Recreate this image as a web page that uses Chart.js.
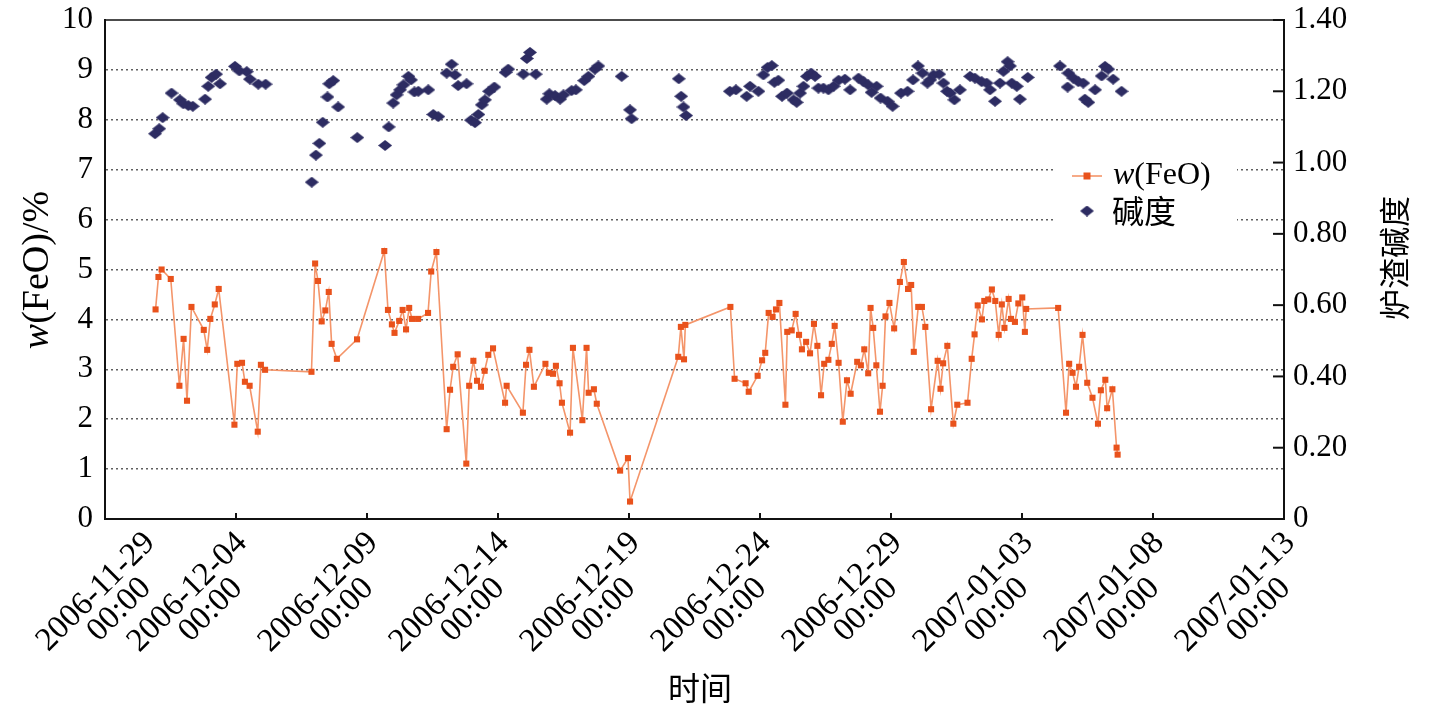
<!DOCTYPE html>
<html><head><meta charset="utf-8">
<script src="https://cdn.jsdelivr.net/npm/chart.js@4.4.1/dist/chart.umd.min.js"></script>
<style>html,body{margin:0;padding:0;background:#fff;}#wrap{width:1453px;height:707px;position:relative;}</style>
</head><body><div id="wrap"><canvas id="c"></canvas></div>
<script>
// ---- data ----
const xTickDates = ['2006-11-29','2006-12-04','2006-12-09','2006-12-14','2006-12-19','2006-12-24','2006-12-29','2007-01-03','2007-01-08','2007-01-13'];
const xTickTime = '00:00';
const leftTickLabels = ['0','1','2','3','4','5','6','7','8','9','10'];
const rightTickLabels = ['0','0.20','0.40','0.60','0.80','1.00','1.20','1.40'];
// days since 2006-11-29 00:00
const feoDays = [1.93,2.04,2.16,2.51,2.84,3.0,3.13,3.3,3.77,3.9,4.02,4.19,4.34,4.94,5.05,5.23,5.34,5.52,5.83,5.95,6.11,7.88,8.02,8.13,8.27,8.41,8.54,8.65,8.85,9.62,10.66,10.8,10.95,11.05,11.23,11.36,11.49,11.61,11.72,11.95,12.33,12.45,12.65,13.04,13.17,13.29,13.46,13.79,13.9,14.06,14.2,14.35,14.49,14.63,14.81,15.27,15.33,15.95,16.07,16.2,16.37,16.81,16.94,17.1,17.21,17.35,17.44,17.75,17.86,18.22,18.38,18.46,18.66,18.77,19.66,19.96,20.04,21.88,21.98,22.1,22.15,23.87,24.03,24.45,24.57,24.91,25.08,25.2,25.33,25.48,25.61,25.74,25.97,26.04,26.21,26.36,26.49,26.6,26.76,26.91,27.06,27.19,27.33,27.45,27.61,27.74,27.85,28.0,28.16,28.32,28.46,28.71,28.85,28.98,29.13,29.22,29.32,29.44,29.58,29.68,29.79,29.94,30.12,30.34,30.49,30.65,30.77,30.87,31.04,31.18,31.31,31.53,31.78,31.89,31.99,32.15,32.38,32.53,32.92,33.08,33.19,33.31,33.47,33.56,33.71,33.85,33.98,34.11,34.23,34.33,34.49,34.58,34.73,34.86,35.01,35.11,35.16,36.38,36.68,36.8,36.93,37.06,37.18,37.31,37.49,37.69,37.9,38.01,38.18,38.25,38.45,38.61,38.65];
const feoValues = [4.2,4.85,5.0,4.81,2.67,3.61,2.37,4.25,3.79,3.39,4.01,4.3,4.61,1.89,3.11,3.13,2.75,2.67,1.75,3.09,2.99,2.95,5.12,4.77,3.96,4.18,4.55,3.51,3.21,3.6,5.37,4.19,3.9,3.73,3.97,4.19,3.8,4.23,4.01,4.01,4.13,4.96,5.35,1.8,2.59,3.05,3.3,1.11,2.67,3.17,2.77,2.65,2.97,3.29,3.42,2.33,2.67,2.13,3.09,3.39,2.65,3.11,2.93,2.91,3.07,2.72,2.33,1.73,3.43,1.98,3.43,2.53,2.6,2.31,0.97,1.22,0.35,3.25,3.85,3.2,3.89,4.25,2.81,2.72,2.55,2.87,3.18,3.33,4.13,4.05,4.2,4.33,2.29,3.75,3.78,4.11,3.69,3.4,3.55,3.32,3.91,3.47,2.48,3.11,3.19,3.51,3.87,3.13,1.95,2.78,2.51,3.15,3.08,3.4,2.92,4.23,3.83,3.08,2.15,2.67,4.06,4.33,3.82,4.75,5.15,4.61,4.69,3.35,4.25,4.25,3.85,2.2,3.17,2.61,3.12,3.47,1.91,2.29,2.33,3.21,3.7,4.28,4.0,4.37,4.4,4.6,4.37,3.69,4.3,3.83,4.41,4.01,3.95,4.32,4.44,3.75,4.21,4.23,2.13,3.11,2.93,2.65,3.05,3.69,2.73,2.43,1.91,2.58,2.79,2.22,2.6,1.43,1.29];
const basDays = [1.91,2.07,2.2,2.54,2.86,2.99,3.18,3.35,3.82,3.94,4.07,4.24,4.39,4.96,5.13,5.41,5.53,5.85,6.13,7.89,8.05,8.18,8.31,8.49,8.56,8.71,8.9,9.63,10.69,10.83,11.0,11.13,11.26,11.39,11.58,11.68,11.81,11.96,12.34,12.53,12.72,13.04,13.23,13.36,13.48,13.8,13.97,14.12,14.25,14.38,14.5,14.66,14.86,15.29,15.39,15.97,16.1,16.22,16.44,16.86,16.96,17.18,17.37,17.5,17.81,17.97,18.29,18.45,18.7,18.83,19.72,20.04,20.1,21.9,21.99,22.08,22.18,23.85,24.08,24.49,24.62,24.94,25.13,25.29,25.45,25.55,25.7,25.84,26.03,26.28,26.4,26.53,26.66,26.79,26.95,27.1,27.23,27.42,27.61,27.81,28.0,28.24,28.44,28.76,28.95,29.13,29.26,29.45,29.6,29.87,30.06,30.38,30.63,30.84,31.03,31.2,31.39,31.5,31.62,31.84,32.0,32.14,32.25,32.42,32.63,33.02,33.2,33.46,33.65,33.78,33.97,34.16,34.29,34.45,34.54,34.61,34.8,34.92,35.22,36.45,36.74,36.77,36.96,37.15,37.34,37.4,37.53,37.79,38.04,38.17,38.29,38.48,38.8];
const basValues = [1.081,1.095,1.126,1.195,1.176,1.165,1.16,1.158,1.178,1.214,1.239,1.248,1.221,1.27,1.257,1.255,1.234,1.22,1.22,0.945,1.021,1.054,1.113,1.184,1.221,1.23,1.156,1.07,1.048,1.1,1.167,1.19,1.204,1.218,1.242,1.232,1.198,1.2,1.204,1.135,1.129,1.251,1.276,1.246,1.216,1.221,1.119,1.112,1.135,1.162,1.176,1.2,1.212,1.253,1.262,1.248,1.292,1.309,1.248,1.178,1.193,1.188,1.178,1.19,1.202,1.204,1.23,1.242,1.262,1.271,1.242,1.148,1.123,1.235,1.186,1.156,1.132,1.2,1.204,1.186,1.214,1.2,1.246,1.267,1.272,1.225,1.231,1.186,1.195,1.176,1.169,1.195,1.214,1.242,1.251,1.242,1.209,1.209,1.204,1.214,1.231,1.234,1.204,1.237,1.227,1.218,1.197,1.214,1.181,1.172,1.158,1.195,1.2,1.232,1.271,1.251,1.223,1.232,1.246,1.248,1.223,1.2,1.195,1.176,1.204,1.242,1.237,1.227,1.223,1.204,1.172,1.223,1.256,1.283,1.271,1.223,1.214,1.178,1.239,1.271,1.212,1.251,1.237,1.227,1.223,1.178,1.169,1.204,1.243,1.27,1.262,1.234,1.2];
const seriesNames = ['w(FeO)','碱度'];
const axisTitles = {left:'w(FeO)/%', right:'炉渣碱度', x:'时间'};

// ---- styles ----
const SERIF = '"Liberation Serif","Times New Roman",serif';
const CJK = '"Noto Sans CJK SC",sans-serif';
const FEO_LINE = '#F4956A';
const FEO_MARK = '#E9521C';
const BAS_COL = '#2D2C62';

function makeDiamond(w,h,color){
  const c=document.createElement('canvas'); c.width=w; c.height=h;
  const g=c.getContext('2d'); g.fillStyle=color; g.beginPath();
  g.moveTo(w/2,0); g.lineTo(w,h/2); g.lineTo(w/2,h); g.lineTo(0,h/2); g.closePath(); g.fill();
  return c;
}
const diamond = makeDiamond(14,11,BAS_COL);

const PLOT = {left:105, right:1284, top:20, bottom:519};
const W=1453,H=707;

function zeroPad(s){ s.paddingLeft=0; s.paddingRight=0; s.paddingTop=0; s.paddingBottom=0; }

const decor = {
  id:'decor',
  afterDraw(chart){
    const {ctx, chartArea:a, scales} = chart;
    ctx.save();
    ctx.strokeStyle='#111';
    ctx.lineWidth=1.5;
    ctx.beginPath(); ctx.moveTo(a.left,a.top); ctx.lineTo(a.right,a.top); ctx.stroke();
    ctx.lineWidth=2;
    scales.x.ticks.forEach(t=>{const px=scales.x.getPixelForValue(t.value);
      ctx.beginPath(); ctx.moveTo(px,a.bottom); ctx.lineTo(px,a.bottom-6); ctx.stroke();});
    scales.y2.ticks.forEach(t=>{const py=scales.y2.getPixelForValue(t.value);
      ctx.beginPath(); ctx.moveTo(a.right,py); ctx.lineTo(a.right-11,py); ctx.stroke();});
    // x tick labels (two lines, rotated 45deg, second line centred under the first)
    ctx.fillStyle='#000';
    ctx.font='33px '+SERIF;
    const c45=Math.SQRT1_2;
    scales.x.ticks.forEach((t,i)=>{
      const px=scales.x.getPixelForValue(t.value);
      const l1=xTickDates[i], l2=xTickTime;
      const w1=ctx.measureText(l1).width;
      let ax=px+6, ay=a.bottom+19;
      const leftExt=ax-w1*c45-12;
      if(leftExt<30) ax+=30-leftExt;
      ctx.save(); ctx.translate(ax,ay); ctx.rotate(-Math.PI/4);
      ctx.textBaseline='middle'; ctx.textAlign='right'; ctx.fillText(l1,0,0);
      ctx.textAlign='center'; ctx.fillText(l2,-w1/2+4,29);
      ctx.restore();
    });
    // legend
    ctx.fillStyle='#fff'; ctx.fillRect(1055,155,182,70);
    const ly1=176, ly2=211, lx=1087;
    ctx.strokeStyle=FEO_LINE; ctx.lineWidth=1.6;
    ctx.beginPath(); ctx.moveTo(lx-15,ly1); ctx.lineTo(lx+15,ly1); ctx.stroke();
    ctx.fillStyle=FEO_MARK; ctx.fillRect(lx-3.5,ly1-3.5,7,7);
    ctx.drawImage(diamond,lx-7,ly2-5.5);
    ctx.fillStyle='#000'; ctx.textBaseline='middle'; ctx.textAlign='left';
    ctx.font='italic 32px '+SERIF; ctx.fillText('w',1113,ly1);
    const ww=ctx.measureText('w').width;
    ctx.font='32px '+SERIF; ctx.fillText('(FeO)',1113+ww,ly1);
    ctx.font='32px '+CJK; ctx.fillText(seriesNames[1],1112,ly2);
    // left title
    ctx.save(); ctx.translate(38,270); ctx.rotate(-Math.PI/2);
    ctx.font='italic 38px '+SERIF; const w1=ctx.measureText('w').width;
    ctx.font='38px '+SERIF; const rest='(FeO)/%'; const w2=ctx.measureText(rest).width;
    const x0=-(w1+w2)/2;
    ctx.font='italic 38px '+SERIF; ctx.fillText('w',x0,0);
    ctx.font='38px '+SERIF; ctx.fillText(rest,x0+w1,0);
    ctx.restore();
    // right title
    ctx.save(); ctx.translate(1394,258); ctx.rotate(-Math.PI/2);
    ctx.font='31px '+CJK; ctx.textAlign='center'; ctx.fillText(axisTitles.right,0,0);
    ctx.restore();
    // x title
    ctx.font='32px '+CJK; ctx.textAlign='center'; ctx.fillText(axisTitles.x,700,688);
    ctx.restore();
  }
};

new Chart(document.getElementById('c'),{
  type:'line',
  data:{datasets:[
    {label:seriesNames[0], data:feoDays.map((d,i)=>({x:d,y:feoValues[i]})), yAxisID:'y',
     borderColor:FEO_LINE, borderWidth:1.6, pointStyle:'rect', pointRadius:4.3, pointBorderWidth:0,
     pointBackgroundColor:FEO_MARK, tension:0, order:2},
    {label:seriesNames[1], data:basDays.map((d,i)=>({x:d,y:basValues[i]})), yAxisID:'y2',
     showLine:false, pointStyle:diamond, pointRadius:6, backgroundColor:BAS_COL, borderColor:BAS_COL, order:1}
  ]},
  options:{
    responsive:true, maintainAspectRatio:false, animation:false,
    layout:{padding:{top:PLOT.top,left:0,right:0,bottom:0}},
    plugins:{legend:{display:false}, tooltip:{enabled:false}},
    scales:{
      x:{type:'linear', min:0, max:45, position:'bottom',
        ticks:{stepSize:5, autoSkip:false, display:false, callback:(v,i)=>xTickDates[i]},
        grid:{drawOnChartArea:false, drawTicks:false},
        border:{display:true,color:'#111',width:2},
        afterFit:s=>{s.height=H-PLOT.bottom; zeroPad(s);} },
      y:{type:'linear', position:'left', min:0, max:10,
        ticks:{stepSize:1, padding:12, color:'#000', font:{family:SERIF,size:31},
          callback:(v,i)=>leftTickLabels[i]},
        grid:{drawTicks:false, lineWidth:1.5,
          color:c=>(c.tick && (c.tick.value===0||c.tick.value===10))?'rgba(0,0,0,0)':'#5f5f5f'},
        border:{display:true,color:'#111',width:2,dash:[2,3]},
        afterFit:s=>{s.width=PLOT.left; zeroPad(s);} },
      y2:{type:'linear', position:'right', min:0, max:1.4,
        ticks:{stepSize:0.2, padding:9, color:'#000', font:{family:SERIF,size:31},
          callback:(v,i)=>rightTickLabels[i]},
        grid:{display:false, drawOnChartArea:false, drawTicks:false},
        border:{display:true,color:'#111',width:2},
        afterFit:s=>{s.width=W-PLOT.right; zeroPad(s);} }
    }
  },
  plugins:[decor]
});
</script></body></html>
